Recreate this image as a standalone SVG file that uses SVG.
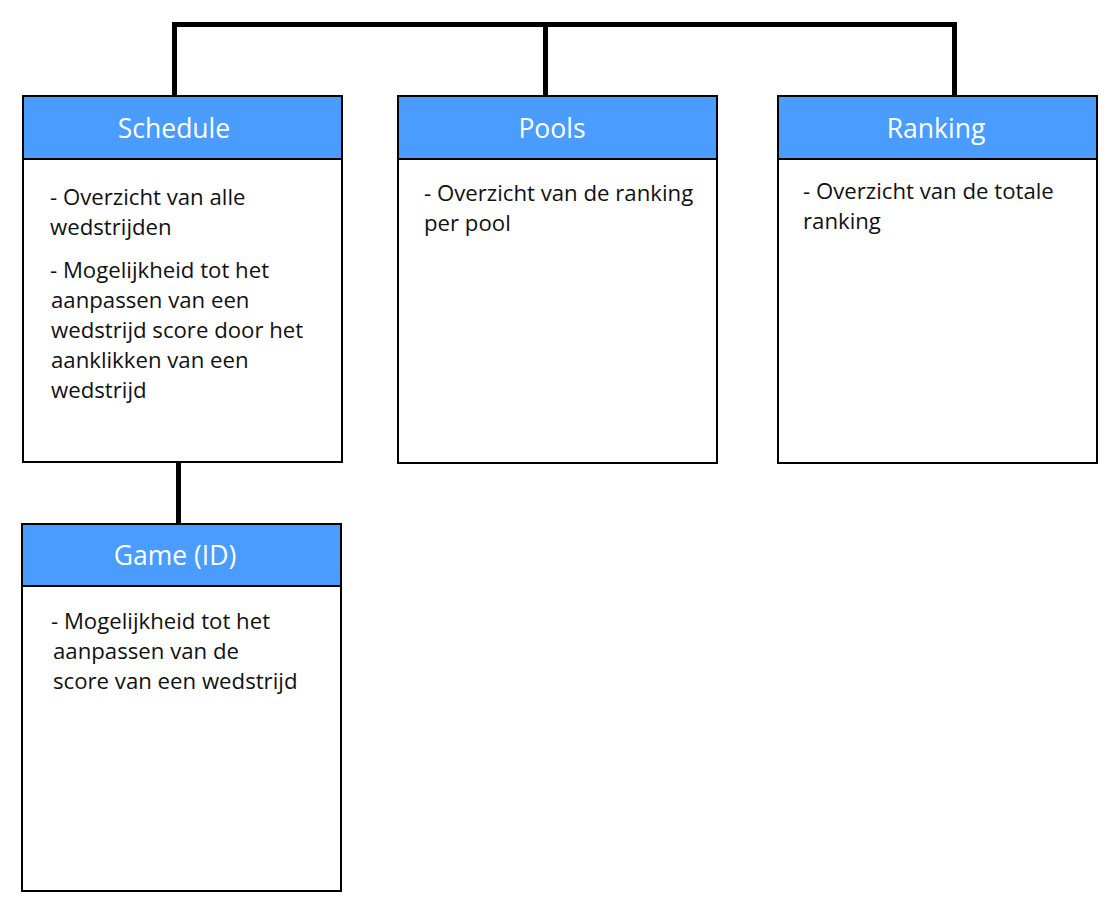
<svg xmlns="http://www.w3.org/2000/svg" width="1118" height="919" viewBox="0 0 1118 919">
<style>
.box{fill:#fff;stroke:#000;stroke-width:2}
.hdr{fill:#4A9CFF;stroke:#000;stroke-width:2}
.title{font-family:"Open Sans","Noto Sans",sans-serif;font-size:26.5px;fill:#fff;text-anchor:middle}
.body{font-family:"Open Sans","Noto Sans",sans-serif;font-size:22.2px;fill:#111}
.conn{fill:none;stroke:#000;stroke-width:5;stroke-linejoin:miter;stroke-linecap:butt}
</style>
<rect width="1118" height="919" fill="#fff"/>
<g id="connectors">
<path class="conn" d="M174.5,95 V24.5 H954.5 V95"/>
<path class="conn" d="M545.5,24.5 V95"/>
<path class="conn" d="M178.5,463 V524"/>
</g>
<g id="schedule">
<rect class="box" x="23" y="96" width="319" height="366"/>
<rect class="hdr" x="23" y="96" width="319" height="63"/>
<text class="title" x="174" y="138">Schedule</text>
<text class="body" x="50" y="205">- Overzicht van alle</text>
<text class="body" x="50" y="235">wedstrijden</text>
<text class="body" x="50" y="278">- Mogelijkheid tot het</text>
<text class="body" x="51" y="308">aanpassen van een</text>
<text class="body" x="51" y="338">wedstrijd score door het</text>
<text class="body" x="51" y="368">aanklikken van een</text>
<text class="body" x="51" y="398">wedstrijd</text>
</g>
<g id="pools">
<rect class="box" x="398" y="96" width="319" height="367"/>
<rect class="hdr" x="398" y="96" width="319" height="63"/>
<text class="title" x="552" y="138">Pools</text>
<text class="body" x="424" y="201">- Overzicht van de ranking</text>
<text class="body" x="424" y="231">per pool</text>
</g>
<g id="ranking">
<rect class="box" x="778" y="96" width="319" height="367"/>
<rect class="hdr" x="778" y="96" width="319" height="63"/>
<text class="title" x="936" y="138">Ranking</text>
<text class="body" x="803" y="199">- Overzicht van de totale</text>
<text class="body" x="803" y="229">ranking</text>
</g>
<g id="game">
<rect class="box" x="22" y="524" width="319" height="367"/>
<rect class="hdr" x="22" y="524" width="319" height="62"/>
<text class="title" x="175" y="565">Game (ID)</text>
<text class="body" x="51" y="629">- Mogelijkheid tot het</text>
<text class="body" x="53" y="659">aanpassen van de</text>
<text class="body" x="53" y="689">score van een wedstrijd</text>
</g>
</svg>
